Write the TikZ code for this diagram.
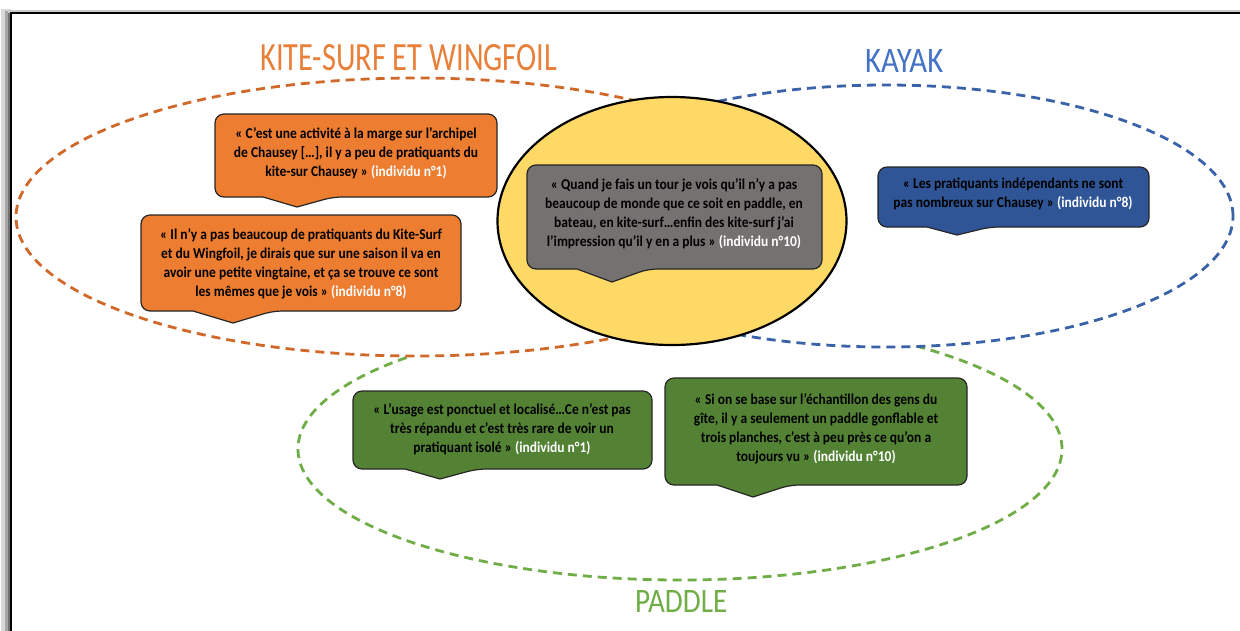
\documentclass[tikz,border=0pt]{standalone}
\usepackage{fontspec}
\usepackage{graphicx}
\setmainfont{Carlito}
\newfontfamily\boxfont[FakeStretch=0.9]{Carlito}
\usetikzlibrary{shapes.geometric}
\definecolor{orfill}{HTML}{ED7D31}
\definecolor{ordash}{HTML}{D0682A}
\definecolor{ortitle}{HTML}{E8803A}
\definecolor{blfill}{HTML}{2F5597}
\definecolor{bldash}{HTML}{3A62A8}
\definecolor{bltitle}{HTML}{4472C4}
\definecolor{grfill}{HTML}{548235}
\definecolor{grdash}{HTML}{70AD47}
\definecolor{gyfill}{HTML}{767171}
\definecolor{yefill}{HTML}{FFD966}
\newcommand\mycallout[9]{%
  \path[draw=black!85, line width=1.2pt, fill=#1] (#6,#5) [rounded corners=9pt] -- (#2,#5) -- (#2,#3) -- (#4,#3) -- (#4,#5) -- (#8,#5) [sharp corners] -- (#7,#9) -- cycle;}
\tikzset{
  zone/.style={ellipse, inner sep=0pt, fill=white, line width=2.8pt, dash pattern=on 9pt off 6pt},
  quote/.style={align=center, inner sep=0pt, text=black, font=\boxfont\bfseries\fontsize{15}{19}\selectfont}
}
\begin{document}
\begin{tikzpicture}[x=1pt,y=-1pt]
\useasboundingbox (0,0) rectangle (1240,630);
% frame shadow (left and top strips only)
\fill[black!15] (1,9) rectangle (11,640);
\fill[black!35] (5,11) rectangle (11,640);
\fill[black!55] (8,12) rectangle (11,640);
\fill[black!20] (8,10) rectangle (1250,13);
% frame
\draw[line width=2pt] (11,650) -- (11,13) -- (1260,13);
% zones
\node[zone, draw=grdash, minimum width=764pt, minimum height=262pt] (paddle) at (680,449) {};
\node[zone, draw=ordash, minimum width=800pt, minimum height=278pt] (kite) at (416,217) {};
\node[zone, draw=bldash, minimum width=694pt, minimum height=262pt] (kayak) at (886,216) {};
\node[ellipse, inner sep=0pt, draw=black, line width=2.2pt, fill=yefill, minimum width=349pt, minimum height=248pt] (common) at (672,221) {};
% titles
\node[inner sep=0pt, anchor=south west, text=ortitle] (tkite) at (260,71) {\resizebox{297pt}{26pt}{KITE-SURF ET WINGFOIL}};
\node[inner sep=0pt, anchor=south west, text=bltitle] (tkayak) at (865,73) {\resizebox{78pt}{23pt}{KAYAK}};
\node[inner sep=0pt, anchor=south west, text=grdash] (tpaddle) at (635,613) {\resizebox{92pt}{22pt}{PADDLE}};
% callouts
\mycallout{orfill}{215}{114}{497}{197}{263}{297}{333}{207}
\node[quote] (q1) at (356,153) {« C’est une activité à la marge sur l’archipel\\de Chausey […], il y a peu de pratiquants du\\kite-sur Chausey » \textcolor{white}{(individu n°1)}};
\mycallout{orfill}{141}{215}{461}{311}{193}{233}{273}{323}
\node[quote] (q2) at (301,263.5) {« Il n’y a pas beaucoup de pratiquants du Kite-Surf\\et du Wingfoil, je dirais que sur une saison il va en\\avoir une petite vingtaine, et ça se trouve ce sont\\les mêmes que je vois » \textcolor{white}{(individu n°8)}};
\mycallout{gyfill}{527}{165}{822}{269}{577}{612}{648}{282}
\node[quote] (q3) at (674,214) {« Quand je fais un tour je vois qu’il n’y a pas\\beaucoup de monde que ce soit en paddle, en\\bateau, en kite-surf…enfin des kite-surf j’ai\\l’impression qu’il y en a plus » \textcolor{white}{(individu n°10)}};
\mycallout{blfill}{878}{167}{1149}{227}{927}{957}{990}{235}
\node[quote] (q4) at (1013,194) {« Les pratiquants indépendants ne sont\\pas nombreux sur Chausey » \textcolor{white}{(individu n°8)}};
\mycallout{grfill}{353}{391}{652}{469}{405}{440}{477}{479}
\node[quote] (q5) at (502,429) {« L’usage est ponctuel et localisé…Ce n’est pas\\très répandu et c’est très rare de voir un\\pratiquant isolé » \textcolor{white}{(individu n°1)}};
\mycallout{grfill}{665}{378}{967}{485}{717}{753}{790}{497}
\node[quote] (q6) at (816,429) {« Si on se base sur l’échantillon des gens du\\gîte, il y a seulement un paddle gonflable et\\trois planches, c’est à peu près ce qu’on a\\toujours vu » \textcolor{white}{(individu n°10)}};
\end{tikzpicture}
\end{document}
